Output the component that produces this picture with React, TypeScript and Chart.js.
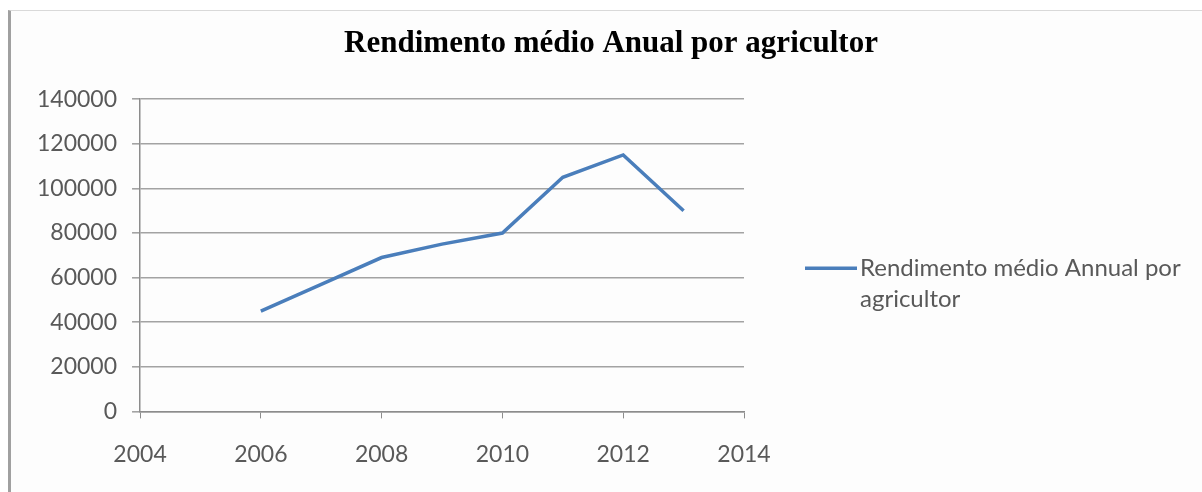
import React, { useEffect, useRef } from "react";
import { Chart, registerables } from "chart.js";

Chart.register(...registerables);

const chartTitle = "Rendimento médio Anual por agricultor";
const legendLines = ["Rendimento médio Annual por", "agricultor"];
const years = [2006, 2007, 2008, 2009, 2010, 2011, 2012, 2013];
const rendimento = [45000, 57000, 69000, 75000, 80000, 105000, 115000, 90000];
const xMin = 2004;
const xMax = 2014;
const xStep = 2;
const yMin = 0;
const yMax = 140000;
const yStep = 20000;

const LINE_COLOR = "#4a7ebb";
const TEXT_COLOR = "#595959";
const GRID_COLOR = "#a3a3a3";
const AXIS_COLOR = "#8c8c8c";
const SANS = "Lato, 'Open Sans', sans-serif";

const sideLegend = {
  id: "sideLegend",
  afterDraw(chart: any) {
    const { ctx, chartArea } = chart;
    const mid = (chartArea.top + chartArea.bottom) / 2;
    const x0 = chartArea.right + 61;
    const y0 = mid + 13;
    ctx.save();
    ctx.strokeStyle = LINE_COLOR;
    ctx.lineWidth = 3.5;
    ctx.beginPath();
    ctx.moveTo(x0, y0);
    ctx.lineTo(x0 + 52, y0);
    ctx.stroke();
    ctx.font = "24px " + SANS;
    ctx.fillStyle = TEXT_COLOR;
    ctx.textBaseline = "middle";
    ctx.textAlign = "left";
    legendLines.forEach((t, i) => ctx.fillText(t, x0 + 55, y0 + i * 31));
    ctx.restore();
  },
};

export default function App() {
  const ref = useRef<HTMLCanvasElement | null>(null);

  useEffect(() => {
    if (!ref.current) return;
    const chart = new Chart(ref.current, {
      type: "line",
      data: {
        datasets: [
          {
            label: legendLines.join(" "),
            data: years.map((y, i) => ({ x: y, y: rendimento[i] })),
            borderColor: LINE_COLOR,
            backgroundColor: LINE_COLOR,
            borderWidth: 3.5,
            pointRadius: 0,
            tension: 0,
            fill: false,
          },
        ],
      },
      options: {
        responsive: false,
        animation: false,
        layout: { padding: { left: 22, right: 2, top: 0, bottom: 2 } },
        plugins: {
          legend: { display: false },
          tooltip: { enabled: false },
          title: {
            display: true,
            text: chartTitle,
            color: "#000000",
            font: { family: "'Liberation Serif', 'Times New Roman', serif", size: 31, weight: "bold" },
            padding: { top: 25, bottom: 37 },
          },
        },
        scales: {
          x: {
            type: "linear",
            min: xMin,
            max: xMax,
            ticks: {
              stepSize: xStep,
              color: TEXT_COLOR,
              font: { family: SANS, size: 23 },
              padding: 22,
              callback: (v: any) => String(v),
            },
            grid: {
              display: true,
              drawOnChartArea: false,
              drawTicks: true,
              tickLength: 7,
              color: AXIS_COLOR,
              lineWidth: 1,
            },
            border: { display: true, color: AXIS_COLOR, width: 1.5 },
          },
          y: {
            min: yMin,
            max: yMax,
            ticks: {
              stepSize: yStep,
              color: TEXT_COLOR,
              font: { family: SANS, size: 23 },
              padding: 15,
              callback: (v: any) => String(v),
            },
            grid: {
              color: GRID_COLOR,
              lineWidth: 1.6,
              drawTicks: true,
              tickLength: 8,
            },
            border: { display: true, color: AXIS_COLOR, width: 1.5 },
          },
          legendSpace: {
            type: "linear",
            position: "right",
            display: true,
            grid: { display: false, drawTicks: false },
            border: { display: false },
            ticks: { display: false },
            afterFit: (scale: any) => {
              scale.width = 456;
            },
          },
        },
      },
      plugins: [sideLegend],
    });
    return () => chart.destroy();
  }, []);

  return (
    <div style={{ position: "absolute", left: 0, top: 0, width: 1202, height: 492, background: "#ffffff", overflow: "hidden" }}>
      <div
        style={{
          position: "absolute",
          left: 8,
          top: 10,
          width: 1202,
          height: 492,
          borderLeft: "3px solid #a0a0a0",
          borderTop: "1px solid #d9d9d9",
          background: "#fdfdfd",
        }}
      />
      <canvas ref={ref} width={1202} height={492} style={{ position: "absolute", left: 0, top: 0 }} />
    </div>
  );
}
